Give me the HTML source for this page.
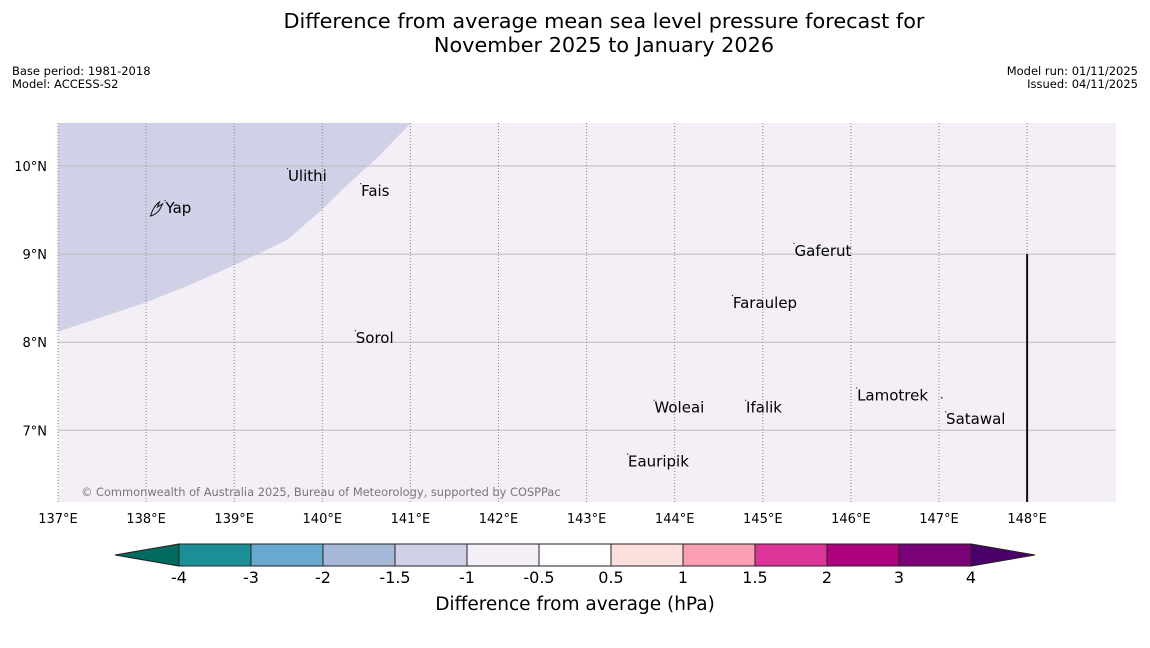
<!DOCTYPE html>
<html><head><meta charset="utf-8"><style>
body{margin:0;background:#fff;width:1150px;height:644px;overflow:hidden;font-family:"DejaVu Sans","Liberation Sans",sans-serif}
svg text{font-family:"DejaVu Sans","Liberation Sans",sans-serif}
</style></head><body>
<svg id="c" width="1150" height="644" xmlns="http://www.w3.org/2000/svg">
<text x="604" y="28" font-size="20.8" text-anchor="middle">Difference from average mean sea level pressure forecast for</text>
<text x="604" y="52" font-size="20.8" text-anchor="middle">November 2025 to January 2026</text>
<text x="12" y="75" font-size="11.5">Base period: 1981-2018</text>
<text x="12" y="88" font-size="11.5">Model: ACCESS-S2</text>
<text x="1138" y="75" font-size="11.5" text-anchor="end">Model run: 01/11/2025</text>
<text x="1138" y="88" font-size="11.5" text-anchor="end">Issued: 04/11/2025</text>
<g id="map"></g>
<g id="cbar"></g>
</svg>
<script>
const lonTicks=[137,138,139,140,141,142,143,144,145,146,147,148];
const latTicks=[7,8,9,10];
const contourLon=[137,137.99,138.5,139.01,139.6,139.97,140.31,140.6,141.01];
const contourLat=[8.12,8.45,8.65,8.88,9.16,9.48,9.81,10.07,10.49];
const placeNames=["Yap","Ulithi","Fais","Sorol","Gaferut","Faraulep","Woleai","Ifalik","Lamotrek","Satawal","Eauripik"];
const placeLon=[138.22,139.61,140.44,140.38,145.36,144.66,143.77,144.81,146.07,147.08,143.47];
const placeLat=[9.467,9.83,9.66,7.99,8.98,8.39,7.20,7.20,7.34,7.07,6.59];
const cbLevels=["-4","-3","-2","-1.5","-1","-0.5","0.5","1","1.5","2","3","4"];
const cbColors=["#1a9096","#67a9cf","#a6b9d8","#d0d1e6","#f4eef6","#ffffff","#fde0dd","#fa9fb5","#dd3497","#ae017e","#7a0177"];
const x0=58,x1=1116,y0=123,y1=502;
const X=lon=>58+(lon-137)*88.1;
const Y=lat=>166+(10-lat)*88.1;
const NS="http://www.w3.org/2000/svg";
function mk(t,a,p){const e=document.createElementNS(NS,t);for(const k in a)e.setAttribute(k,a[k]);p.appendChild(e);return e;}
const map=document.getElementById('map');
const bg=mk('rect',{x:x0,y:y0,width:x1-x0,height:y1-y0,fill:'#f4eef6'},map);


let d=`M${x0},${y0}`;
contourLon.forEach((lo,i)=>{d+=` L${X(lo).toFixed(1)},${Y(contourLat[i]).toFixed(1)}`;});
d+=` L${X(contourLon[contourLon.length-1])},${y0} Z`;
const poly=mk('path',{d:d,fill:'#d0d1e6'},map);


latTicks.forEach(l=>{
 const ln=mk('line',{x1:x0,x2:x1,y1:Y(l),y2:Y(l),stroke:'#bbb','stroke-width':1},map);
 
 
 const t=mk('text',{x:47,y:Y(l)+5,'font-size':13,'text-anchor':'end'},map);t.textContent=l+'°N';
 
 
});
lonTicks.forEach(l=>{
 const ln=mk('line',{x1:X(l),x2:X(l),y1:y0,y2:y1,stroke:'#888','stroke-width':1,'stroke-dasharray':'1,2'},map);
 
 
 const t=mk('text',{x:X(l),y:523,'font-size':13,'text-anchor':'middle'},map);t.textContent=l+'°E';
 
 
});
const bl=mk('line',{x1:X(148),x2:X(148),y1:Y(9),y2:y1,stroke:'#111','stroke-width':2},map);


const yapShape=mk('path',{d:`M${X(138.22)-15},${Y(9.467)+3} q3,-10 9,-14 l-2,5 l5,-3 l-3,6 q-4,5 -9,6 z`,fill:'none',stroke:'#111','stroke-width':1},map);


placeNames.forEach((n,i)=>{
 const px=X(placeLon[i]),py=Y(placeLat[i]);
 const dot=mk('rect',{x:px-1,y:py-13,width:1.2,height:1.2,fill:'#333'},map);
 
 
 const t=mk('text',{x:px,y:py,'font-size':15},map);t.textContent=n;
 
 
});
const ed=mk('rect',{x:941,y:397,width:1.5,height:1.5,fill:'#333'},map);


const cp=mk('text',{x:81,y:496,'font-size':11.4,fill:'#777'},map);cp.textContent='© Commonwealth of Australia 2025, Bureau of Meteorology, supported by COSPPac';


const cb=document.getElementById('cbar');
const cx=i=>179+i*72, cy0=544, cy1=566;
const lt=mk('polygon',{points:`115,555 ${cx(0)},${cy0} ${cx(0)},${cy1}`,fill:'#006b5e',stroke:'#222'},cb);


const rt=mk('polygon',{points:`1035,555 ${cx(11)},${cy0} ${cx(11)},${cy1}`,fill:'#49006a',stroke:'#222'},cb);


cbColors.forEach((c,i)=>{
 const r=mk('rect',{x:cx(i),y:cy0,width:72,height:cy1-cy0,fill:c,stroke:'#222','stroke-width':1},cb);
 
 
});
cbLevels.forEach((l,i)=>{
 const t=mk('text',{x:cx(i),y:583,'font-size':16,'text-anchor':'middle'},cb);t.textContent=l;
 
 
});
const ct=mk('text',{x:575,y:610,'font-size':18.5,'text-anchor':'middle'},cb);ct.textContent='Difference from average (hPa)';


</script>
</body></html>
